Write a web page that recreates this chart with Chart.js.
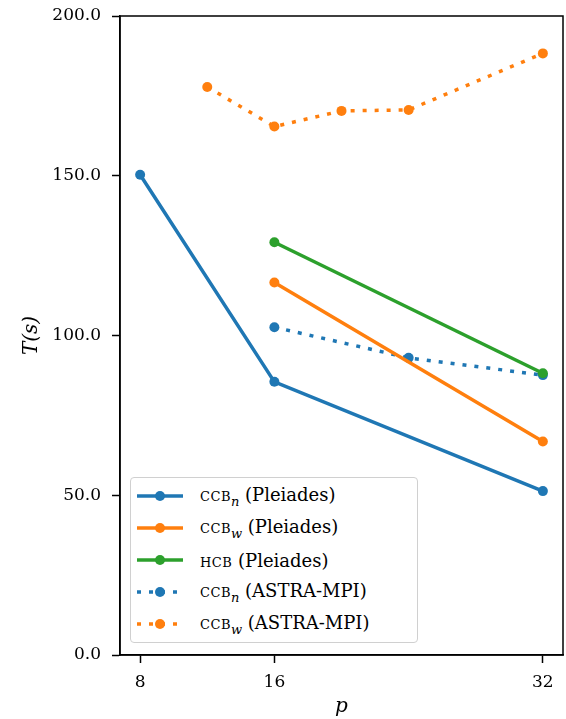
<!DOCTYPE html>
<html>
<head>
  <script src="https://cdn.jsdelivr.net/npm/chart.js"></script>
  <style>
    body { margin: 0; background: #fff; }
    #wrap { position: relative; width: 566px; height: 719px; }
    #legend {
      position: absolute; left: 130px; top: 477px; width: 288px; height: 166px;
      border: 1.5px solid #d0d0d0; border-radius: 4px; background: #fff;
      font-family: "DejaVu Serif", serif; font-size: 18px; color: #000;
      box-sizing: border-box; padding-top: 2px;
    }
    .row { height: 32px; display: flex; align-items: center; }
    .row svg { margin-left: 5px; margin-right: 16px; }
    .sc { font-variant: small-caps; letter-spacing: 0.5px; }
    sub { font-size: 13px; }
  </style>
</head>
<body>
<div id="wrap">
  <canvas id="c" width="566" height="719"></canvas>
  <div id="legend"></div>
</div>
<script>
// x = p (processes), y = T(s)
const pPleiades = [8, 16, 32];
const ccbnPleiades = [150.3, 85.5, 51.3];
const pPleiadesW = [16, 32];
const ccbwPleiades = [116.6, 66.8];
const hcbPleiades = [129.2, 88.2];
const pAstraN = [16, 24, 32];
const ccbnAstra = [102.6, 93.0, 87.6];
const pAstraW = [12, 16, 20, 24, 32];
const ccbwAstra = [177.8, 165.4, 170.3, 170.6, 188.3];
const xTicks = [8, 16, 32];

const blue = '#1f77b4', orange = '#ff7f0e', green = '#2ca02c';

function pts(xs, ys) { return xs.map((x, i) => ({x: x, y: ys[i]})); }

const series = [
  {name: 'ccb', sub: 'n', where: '(Pleiades)', xs: pPleiades, ys: ccbnPleiades, color: blue, dotted: false},
  {name: 'ccb', sub: 'w', where: '(Pleiades)', xs: pPleiadesW, ys: ccbwPleiades, color: orange, dotted: false},
  {name: 'hcb', sub: '', where: '(Pleiades)', xs: pPleiadesW, ys: hcbPleiades, color: green, dotted: false},
  {name: 'ccb', sub: 'n', where: '(ASTRA-MPI)', xs: pAstraN, ys: ccbnAstra, color: blue, dotted: true},
  {name: 'ccb', sub: 'w', where: '(ASTRA-MPI)', xs: pAstraW, ys: ccbwAstra, color: orange, dotted: true}
];

const font = {family: '"DejaVu Serif", serif', size: 17};

const frame = {
  id: 'frame',
  afterDraw(chart) {
    const a = chart.chartArea, ctx = chart.ctx;
    ctx.save();
    ctx.strokeStyle = '#000';
    ctx.lineWidth = 1.5;
    ctx.strokeRect(a.left, a.top, a.right - a.left, a.bottom - a.top);
    ctx.restore();
  }
};

new Chart(document.getElementById('c'), {
  type: 'line',
  data: {
    datasets: series.map(s => ({
      label: s.name + s.sub + ' ' + s.where,
      data: pts(s.xs, s.ys),
      borderColor: s.color,
      backgroundColor: s.color,
      borderWidth: 3.5,
      borderDash: s.dotted ? [4, 8] : [],
      borderCapStyle: 'butt',
      pointRadius: 5,
      pointHoverRadius: 5,
      pointBorderWidth: 0,
      tension: 0
    }))
  },
  options: {
    responsive: false,
    animation: false,
    layout: {autoPadding: false, padding: {top: 16, right: 3, left: 0, bottom: 0}},
    plugins: {legend: {display: false}, tooltip: {enabled: false}},
    scales: {
      x: {
        type: 'linear', min: 6.8, max: 33.2,
        afterBuildTicks: sc => { sc.ticks = xTicks.map(v => ({value: v})); },
        afterFit: sc => { sc.height = 64; sc.paddingLeft = 0; sc.paddingRight = 0; },
        grid: {drawOnChartArea: false, drawTicks: true, tickLength: 8, color: '#000', tickWidth: 1.5},
        border: {display: true, color: '#000', width: 1.5},
        ticks: {font: font, color: '#000', padding: 9, maxRotation: 0},
        title: {display: true, text: 'p', font: {family: font.family, size: 20, style: 'italic'}, color: '#000', padding: {top: 0, bottom: 0}}
      },
      y: {
        min: 0, max: 200,
        ticks: {stepSize: 50, font: font, color: '#000', padding: 11, callback: v => v.toFixed(1)},
        afterFit: sc => { sc.width = 120; sc.paddingTop = 0; sc.paddingBottom = 0; },
        grid: {drawOnChartArea: false, drawTicks: true, tickLength: 8, color: '#000', tickWidth: 1.5},
        border: {display: true, color: '#000', width: 1.5},
        title: {display: true, text: 'T(s)', font: {family: font.family, size: 20, style: 'italic'}, color: '#000', padding: {top: 20, bottom: 0}}
      }
    }
  },
  plugins: [frame]
});

// legend drawn as html so small caps and subscripts stay real text
const leg = document.getElementById('legend');
series.forEach(s => {
  const row = document.createElement('div');
  row.className = 'row';
  const dash = s.dotted ? ' stroke-dasharray="4 8"' : '';
  row.innerHTML =
    '<svg width="48" height="12"><line x1="1" y1="6" x2="47" y2="6" stroke="' + s.color +
    '" stroke-width="3.5"' + dash + '/><circle cx="24" cy="6" r="5" fill="' + s.color + '"/></svg>' +
    '<span><span class="sc">' + s.name + '</span>' +
    (s.sub ? '<sub><i>' + s.sub + '</i></sub>' : '') + ' ' + s.where + '</span>';
  leg.appendChild(row);
});
</script>
</body>
</html>
